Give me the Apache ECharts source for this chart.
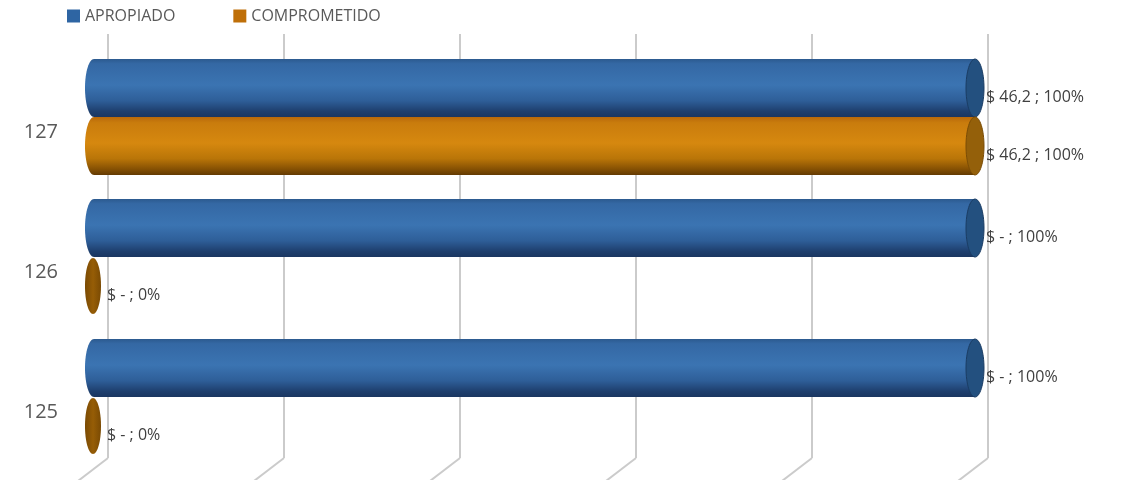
<!DOCTYPE html>
<html>
<head>
<meta charset="utf-8">
<script src="https://cdn.jsdelivr.net/npm/echarts@6/dist/echarts.min.js"></script>
<style>html,body{margin:0;padding:0;background:#fff}#c{width:1124px;height:480px}</style>
</head>
<body>
<div id="c"></div>
<script>
const categories = ['125', '126', '127'];
const apropiadoPct = [100, 100, 100];
const comprometidoPct = [0, 0, 100];
const apropiadoAmt = ['-', '-', '46,2'];
const comprometidoAmt = ['-', '-', '46,2'];
const gridTicks = [0, 20, 40, 60, 80, 100];

const FONT = '"Open Sans", "Noto Sans", sans-serif';

const palettes = {
  blue: {
    grad: [[0, '#2c5a8f'], [0.08, '#3468a4'], [0.45, '#3b74b2'], [0.72, '#2e5e98'], [0.9, '#1e3f6e'], [1, '#1a3660']],
    cap: '#23507f', capStroke: '#1a3c63'
  },
  orange: {
    grad: [[0, '#b8680a'], [0.1, '#c97c0d'], [0.45, '#d6880f'], [0.72, '#b97508'], [0.9, '#855003'], [1, '#633a02']],
    cap: '#94600a', capStroke: '#7a4c05'
  }
};

function grad(p) {
  return new echarts.graphic.LinearGradient(0, 0, 0, 1,
    p.grad.map(s => ({ offset: s[0], color: s[1] })));
}

function makeRender(pal, sign, amts) {
  return function (params, api) {
    const v = api.value(0);
    const c = api.value(1);
    const p0 = api.coord([0, c]);
    const p1 = api.coord([v, c]);
    const band = api.size([0, 1])[1];
    const h = band * 0.414;
    const cy = p0[1] + sign * h / 2;
    const y0 = cy - h / 2;
    const children = [];
    let rightEdge;
    const txt = '$ ' + amts[params.dataIndex] + ' ; ' + v + '%';
    if (v > 0) {
      const rx = 9;
      const xs = p0[0] + rx;
      const xe = p1[0] - rx;
      children.push({ type: 'ellipse', shape: { cx: xs, cy: cy, rx: rx, ry: h / 2 }, style: { fill: grad(pal) } });
      children.push({ type: 'rect', shape: { x: xs, y: y0, width: xe - xs, height: h }, style: { fill: grad(pal) } });
      children.push({ type: 'ellipse', shape: { cx: xe, cy: cy, rx: rx, ry: h / 2 }, style: { fill: pal.cap, stroke: pal.capStroke, lineWidth: 1 } });
      rightEdge = p1[0] + 2;
    } else {
      const rx = 8;
      children.push({ type: 'ellipse', shape: { cx: p0[0] + rx, cy: cy, rx: rx, ry: h / 2 - 1 },
        style: { fill: new echarts.graphic.LinearGradient(0, 0, 1, 0, [{ offset: 0, color: '#7a4a03' }, { offset: 0.5, color: '#965d06' }, { offset: 1, color: '#7a4a03' }]) } });
      rightEdge = p0[0] + 2 * rx + 6;
    }
    children.push({ type: 'text', style: { text: txt, x: rightEdge, y: cy + 9, fill: '#404040', font: '16px ' + FONT, align: 'left', verticalAlign: 'middle' } });
    return { type: 'group', children: children };
  };
}

const chart = echarts.init(document.getElementById('c'), null, { renderer: 'canvas' });
chart.setOption({
  animation: false,
  backgroundColor: '#ffffff',
  legend: {
    left: 62, top: 3, icon: 'rect', itemWidth: 13, itemHeight: 13, itemGap: 58,
    textStyle: { color: '#595959', fontSize: 16, fontFamily: FONT },
    data: ['APROPIADO', 'COMPROMETIDO']
  },
  grid: [
    { left: 85, right: 140, top: 47, bottom: 13 },
    { left: 108, right: 136, top: 34, bottom: 22 }
  ],
  xAxis: [
    { type: 'value', gridIndex: 0, min: 0, max: 100, show: false },
    { type: 'value', gridIndex: 1, min: 0, max: 100, interval: 20,
      axisLine: { show: false }, axisTick: { show: false }, axisLabel: { show: false },
      splitLine: { show: true, lineStyle: { color: '#cbcbcb', width: 2 } } }
  ],
  yAxis: [
    { type: 'category', gridIndex: 0, data: categories,
      axisLine: { show: false }, axisTick: { show: false }, splitLine: { show: false },
      axisLabel: { color: '#595959', fontSize: 20, fontFamily: FONT, margin: 27, verticalAlign: 'top', padding: [5, 0, 0, 0] } },
    { type: 'value', gridIndex: 1, min: 0, max: 1, show: false }
  ],
  series: [
    {
      type: 'custom', name: 'floor', xAxisIndex: 1, yAxisIndex: 1, z: 1, silent: true,
      data: gridTicks.map(t => [t, 0]),
      renderItem: function (params, api) {
        const p = api.coord([api.value(0), 0]);
        return { type: 'line', shape: { x1: p[0], y1: p[1], x2: p[0] - 30, y2: p[1] + 23 }, style: { stroke: '#cbcbcb', lineWidth: 2 } };
      }
    },
    {
      type: 'custom', name: 'APROPIADO', z: 3,
      itemStyle: { color: '#2e65a3' },
      data: apropiadoPct.map((v, i) => [v, i]),
      renderItem: makeRender(palettes.blue, -1, apropiadoAmt)
    },
    {
      type: 'custom', name: 'COMPROMETIDO', z: 3,
      itemStyle: { color: '#bf6f08' },
      data: comprometidoPct.map((v, i) => [v, i]),
      renderItem: makeRender(palettes.orange, 1, comprometidoAmt)
    }
  ]
});
</script>
</body>
</html>
